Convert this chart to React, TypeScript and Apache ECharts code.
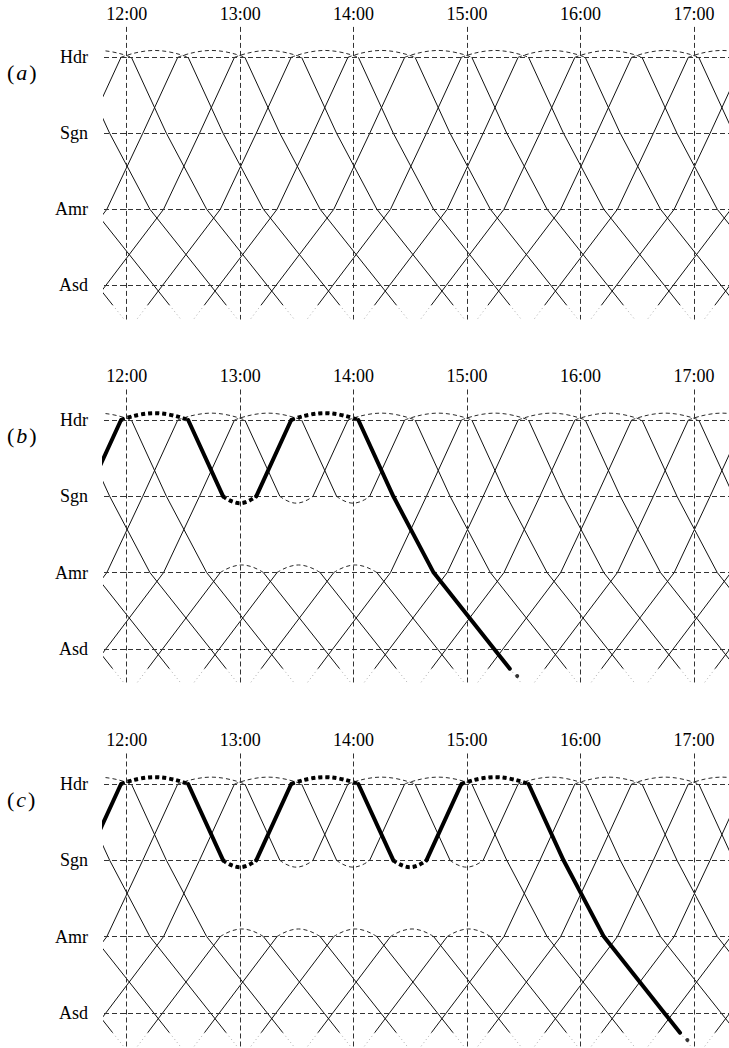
import React, { useEffect, useRef } from "react";
import * as echarts from "echarts";

// ---------- data ----------
const stationNames = ["Hdr", "Sgn", "Amr", "Asd"];
const stationPos = [0, 1, 2, 3];
// timing points: Hdr, Sgn, Amr, Asd, start of fade below Asd, bottom of plot
const pointPos = [0, 1, 2, 3, 3.26, 3.45];
const hourTicks = [0, 60, 120, 180, 240, 300]; // minutes after 12:00
const hourLabels = ["12:00", "13:00", "14:00", "15:00", "16:00", "17:00"];

// Hdr -> Asd trains (half-hour slot) and minutes after slot at each timing point
const downSlots = ["10:30", "11:00", "11:30", "12:00", "12:30", "13:00", "13:30", "14:00", "14:30", "15:00", "15:30", "16:00", "16:30", "17:00", "17:30", "18:00"];
const downOffsets = [2.5, 21, 42.3, 74.3, 82.6, 88.7];
// Asd -> Hdr trains (half-hour slot) and minutes relative to slot at each timing point
const upSlots = ["11:30", "12:00", "12:30", "13:00", "13:30", "14:00", "14:30", "15:00", "15:30", "16:00", "16:30", "17:00", "17:30", "18:00", "18:30"];
const upOffsets = [-3, -21.5, -40.5, -71, -78.9, -84.7];

// trains cancelled between Sgn and Amr (turned at Sgn / Amr)
const cutDownB = ["12:30", "13:00", "13:30"];
const cutUpB = ["13:30", "14:00", "14:30"];
const cutDownC = ["12:30", "13:00", "13:30", "14:00", "14:30"];
const cutUpC = ["13:30", "14:00", "14:30", "15:00", "15:30"];

// highlighted circulation: [direction, slot, from point, to point]
const pathB: [string, string, number, number][] = [
  ["up", "12:00", 1, 0],
  ["down", "12:30", 0, 1],
  ["up", "13:30", 1, 0],
  ["down", "14:00", 0, 4],
];
const pathC: [string, string, number, number][] = [
  ["up", "12:00", 1, 0],
  ["down", "12:30", 0, 1],
  ["up", "13:30", 1, 0],
  ["down", "14:00", 0, 1],
  ["up", "15:00", 1, 0],
  ["down", "15:30", 0, 4],
];
const pathEndOffset = 86.5;
const pathEndPos = 3.355;

// ---------- layout / style ----------
const X_MIN = -12;
const X_MAX = 318.5;
const Y_MIN = -0.4;
const Y_MAX = 3.45;
const FONT = "'Liberation Serif', 'DejaVu Serif', serif";
const arcRise: Record<number, number> = { 0: -0.09, 1: 0.09, 2: -0.1 };

const panels = [
  { label: "a", hdrY: 57.3, sp: 76.0, cutDown: [] as string[], cutUp: [] as string[], path: null as any },
  { label: "b", hdrY: 420, sp: 76.3, cutDown: cutDownB, cutUp: cutUpB, path: pathB },
  { label: "c", hdrY: 784, sp: 76.3, cutDown: cutDownC, cutUp: cutUpC, path: pathC },
];

const toMin = (s: string) => {
  const [h, m] = s.split(":").map(Number);
  return (h - 12) * 60 + m;
};

function legPoints(dir: string, slot: string, from: number, to: number) {
  const off = dir === "down" ? downOffsets : upOffsets;
  const s = toMin(slot);
  const pts: number[][] = [];
  const step = to >= from ? 1 : -1;
  for (let i = from; ; i += step) {
    pts.push([s + off[i], pointPos[i]]);
    if (i === to) break;
  }
  return pts;
}

function buildOption() {
  const series: any[] = [];
  const graphic: any[] = [];

  panels.forEach((p, pi) => {
    const base = { xAxisIndex: pi, yAxisIndex: pi, silent: true, symbol: "none", animation: false };

    // grid lines
    series.push({
      ...base,
      type: "line",
      data: [],
      z: 1,
      markLine: {
        silent: true,
        animation: false,
        symbol: ["none", "none"],
        label: { show: false },
        lineStyle: { type: [5, 3], color: "#333", width: 1 },
        data: [
          ...hourTicks.map((v) => ({ xAxis: v })),
          ...stationPos.map((v) => ({ yAxis: v })),
        ],
      },
    });

    const thin = (data: number[][]) =>
      series.push({ ...base, type: "line", data, z: 2, lineStyle: { color: "#111", width: 1 } });
    const faint = (data: number[][]) =>
      series.push({ ...base, type: "line", data, z: 2, lineStyle: { color: "#aaa", width: 1, type: [1, 3] } });
    const arc = (t1: number, t2: number, st: number, thick: boolean) =>
      series.push({
        ...base,
        type: "line",
        smooth: true,
        z: thick ? 4 : 2,
        data: [
          [t1, stationPos[st]],
          [(t1 + t2) / 2, stationPos[st] + arcRise[st]],
          [t2, stationPos[st]],
        ],
        lineStyle: thick
          ? { color: "#000", width: 4, type: [4, 3] }
          : { color: "#111", width: 0.9, type: [4, 3] },
      });

    const addSeg = (dir: string, slot: string, a: number, b: number) => {
      const lo = Math.min(a, b);
      const hi = Math.max(a, b);
      const sHi = Math.min(hi, 4);
      if (sHi > lo) thin(legPoints(dir, slot, lo, sHi));
      if (hi >= 5) faint(legPoints(dir, slot, 4, 5));
    };

    downSlots.forEach((d) => {
      if (p.cutDown.includes(d)) {
        addSeg("down", d, 0, 1);
        addSeg("down", d, 2, 5);
      } else addSeg("down", d, 0, 5);
    });
    upSlots.forEach((u) => {
      if (p.cutUp.includes(u)) {
        addSeg("up", u, 5, 2);
        addSeg("up", u, 1, 0);
      } else addSeg("up", u, 5, 0);
    });

    // turnarounds at Hdr: each arriving train leaves again on the next half-hour slot
    upSlots.forEach((u) => {
      const next = downSlots.find((d) => toMin(d) === toMin(u) + 30);
      if (next) arc(toMin(u) + upOffsets[0], toMin(next) + downOffsets[0], 0, false);
    });
    // turnarounds at Sgn and Amr during the disruption
    p.cutDown.forEach((d, i) => {
      const u = p.cutUp[i];
      arc(toMin(d) + downOffsets[1], toMin(u) + upOffsets[1], 1, false);
      arc(toMin(u) + upOffsets[2], toMin(d) + downOffsets[2], 2, false);
    });

    // highlighted path
    if (p.path) {
      const path = p.path as [string, string, number, number][];
      path.forEach((leg, li) => {
        series.push({
          ...base,
          type: "line",
          z: 5,
          data: legPoints(leg[0], leg[1], leg[2], leg[3]),
          lineStyle: { color: "#000", width: 4, join: "round", cap: "round" },
        });
        if (li < path.length - 1) {
          const nx = path[li + 1];
          const offA = leg[0] === "down" ? downOffsets : upOffsets;
          const offB = nx[0] === "down" ? downOffsets : upOffsets;
          arc(toMin(leg[1]) + offA[leg[3]], toMin(nx[1]) + offB[nx[2]], leg[3], true);
        }
      });
      const last = path[path.length - 1];
      series.push({
        ...base,
        type: "scatter",
        z: 5,
        symbol: "circle",
        symbolSize: 4,
        itemStyle: { color: "#000" },
        data: [[toMin(last[1]) + pathEndOffset, pathEndPos]],
      });
    }

    graphic.push({
      type: "text",
      left: 7,
      top: p.hdrY + 4,
      silent: true,
      style: {
        text: "{p|(}{i|" + p.label + "}{p|)}",
        rich: {
          p: { fontFamily: FONT, fontSize: 22, fill: "#000" },
          i: { fontFamily: FONT, fontSize: 22, fontStyle: "italic", fill: "#000", padding: [0, 2, 0, 2] },
        },
      },
    });
  });

  return {
    animation: false,
    backgroundColor: "#fff",
    grid: panels.map((p) => ({
      left: 104,
      right: 0,
      top: p.hdrY + Y_MIN * p.sp,
      height: (Y_MAX - Y_MIN) * p.sp,
    })),
    xAxis: panels.map((p, i) => ({
      type: "value",
      gridIndex: i,
      position: "top",
      min: X_MIN,
      max: X_MAX,
      axisLine: { show: false },
      axisTick: { show: false },
      splitLine: { show: false },
      axisLabel: {
        customValues: hourTicks,
        formatter: (v: number) => hourLabels[hourTicks.indexOf(Number(v))] ?? "",
        fontFamily: FONT,
        fontSize: 18,
        color: "#000",
        margin: 4,
      },
    })),
    yAxis: panels.map((p, i) => ({
      type: "value",
      gridIndex: i,
      inverse: true,
      min: Y_MIN,
      max: Y_MAX,
      axisLine: { show: false },
      splitLine: { show: false },
      axisTick: {
        show: true,
        customValues: stationPos,
        length: 8,
        lineStyle: { type: [5, 3], color: "#333", width: 1 },
      },
      axisLabel: {
        customValues: stationPos,
        formatter: (v: number) => stationNames[stationPos.indexOf(Number(v))] ?? "",
        fontFamily: FONT,
        fontSize: 18,
        color: "#000",
        margin: 16,
      },
    })),
    graphic,
    series,
  };
}

export default function App() {
  const ref = useRef<HTMLDivElement>(null);
  useEffect(() => {
    if (!ref.current) return;
    const chart = echarts.init(ref.current, null, { renderer: "svg" });
    chart.setOption(buildOption() as any);
    return () => chart.dispose();
  }, []);
  return (
    <div
      ref={ref}
      style={{ position: "absolute", left: 0, top: 0, width: 729, height: 1048, background: "#fff" }}
    />
  );
}
